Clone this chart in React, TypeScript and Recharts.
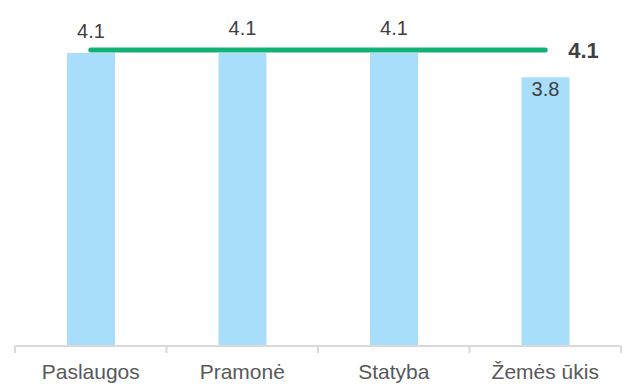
import React from 'react';
import { ComposedChart, Bar, Line, XAxis, YAxis, LabelList } from 'recharts';

const categories = ['Paslaugos', 'Pramonė', 'Statyba', 'Žemės ūkis'];
const barValues = [4.1, 4.1, 4.1, 3.76];
const averageValues = [4.14, 4.14, 4.14, 4.14];

const data = categories.map((name, i) => ({
  name,
  value: barValues[i],
  avg: averageValues[i],
}));

const BAR_COLOR = '#a8ddfc';
const LINE_COLOR = '#13b176';
const TEXT_COLOR = '#404040';
const AXIS_COLOR = '#d9d9d9';

const BarLabel = (props: any) => {
  const { x, y, width, value, index } = props;
  const cx = x + width / 2;
  const inside = index === 3;
  const offset = index === 0 ? 15 : 18;
  const ty = inside ? y + 19 : y - offset;
  return (
    <text x={cx} y={ty} textAnchor="middle" fill={TEXT_COLOR} fontSize={20}>
      {Number(value).toFixed(1)}
    </text>
  );
};

const LineLabel = (props: any) => {
  const { x, y, value, index } = props;
  if (index !== data.length - 1) return null;
  return (
    <text x={x + 23} y={y + 8} textAnchor="start" fill={TEXT_COLOR} fontSize={22} fontWeight="bold">
      {Number(value).toFixed(1)}
    </text>
  );
};

const CategoryTick = (props: any) => {
  const { x, y, payload, index, visibleTicksCount } = props;
  const half = payload && typeof payload.offset === 'number' ? payload.offset : 0;
  const isLast = index === (visibleTicksCount ?? categories.length) - 1;
  return (
    <g>
      <line x1={x - half} x2={x - half} y1={y} y2={y + 7} stroke={AXIS_COLOR} strokeWidth={2} />
      {isLast && <line x1={x + half} x2={x + half} y1={y} y2={y + 7} stroke={AXIS_COLOR} strokeWidth={2} />}
      <text x={x} y={y + 18} dy="0.71em" textAnchor="middle" fill="#595959" fontSize={21}>
        {payload.value}
      </text>
    </g>
  );
};

export default function App() {
  return (
    <div style={{ position: 'absolute', left: 0, top: 0, fontFamily: '"Liberation Sans", Arial, sans-serif' }}>
      <ComposedChart width={630} height={387} data={data} margin={{ top: 10, right: 9, left: 15, bottom: 0 }}>
        <XAxis
          dataKey="name"
          axisLine={{ stroke: AXIS_COLOR, strokeWidth: 2 }}
          tickLine={false}
          tickSize={0}
          tickMargin={0}
          height={41}
          tick={<CategoryTick />}
          interval={0}
        />
        <YAxis hide domain={[0, 4.7]} />
        <Bar dataKey="value" fill={BAR_COLOR} barSize={48} isAnimationActive={false}>
          <LabelList dataKey="value" content={BarLabel} />
        </Bar>
        <Line
          dataKey="avg"
          stroke={LINE_COLOR}
          strokeWidth={5}
          strokeLinecap="round"
          dot={false}
          activeDot={false}
          isAnimationActive={false}
        >
          <LabelList dataKey="avg" content={LineLabel} />
        </Line>
      </ComposedChart>
    </div>
  );
}
